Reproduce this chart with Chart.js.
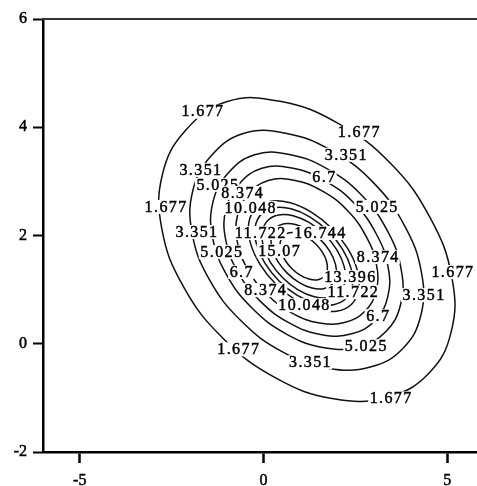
<!DOCTYPE html>
<html>
<head>
<meta charset="utf-8">
<script src="https://cdn.jsdelivr.net/npm/chart.js@4/dist/chart.umd.min.js"></script>
<style>
  html, body { margin: 0; padding: 0; background: #fff; overflow: hidden; }
  #wrap { position: absolute; left: 0; top: 0; width: 500px; height: 486px; }
</style>
</head>
<body>
<div id="wrap"><canvas id="c" width="500" height="486"></canvas></div>
<script>
// contour levels of the surface
const levels = [1.677, 3.351, 5.025, 6.7, 8.374, 10.048, 11.722, 13.396, 15.07, 16.744];

// one closed ring of (x, y) points per level
const ring1677 = [[4.488,-0.554],[5.107,0.220],[5.128,1.215],[4.548,2.311],[3.455,3.334],[2.016,4.077],[0.449,4.479],[-1.007,4.470],[-2.130,3.936],[-2.749,3.132],[-2.770,2.137],[-2.190,1.071],[-1.097,0.098],[0.342,-0.635],[1.909,-1.017],[3.365,-0.988]];
const ring3351 = [[3.793,-0.086],[4.282,0.526],[4.299,1.312],[3.841,2.178],[2.977,2.986],[1.840,3.573],[0.602,3.890],[-0.548,3.884],[-1.435,3.462],[-1.924,2.826],[-1.941,2.040],[-1.483,1.198],[-0.619,0.429],[0.518,-0.150],[1.756,-0.451],[2.906,-0.429]];
const ring5025 = [[3.330,0.226],[3.732,0.730],[3.746,1.376],[3.369,2.089],[2.658,2.754],[1.723,3.237],[0.704,3.498],[-0.242,3.493],[-0.972,3.146],[-1.374,2.622],[-1.388,1.976],[-1.011,1.283],[-0.300,0.650],[0.635,0.174],[1.654,-0.074],[2.600,-0.056]];
const ring6700 = [[3.032,0.427],[3.379,0.861],[3.390,1.418],[3.066,2.032],[2.454,2.605],[1.648,3.020],[0.770,3.246],[-0.045,3.241],[-0.674,2.942],[-1.021,2.491],[-1.032,1.934],[-0.708,1.337],[-0.096,0.792],[0.710,0.382],[1.588,0.168],[2.403,0.184]];
const ring8374 = [[2.767,0.606],[3.064,0.977],[3.075,1.455],[2.796,1.980],[2.271,2.471],[1.581,2.828],[0.829,3.022],[0.130,3.017],[-0.409,2.760],[-0.706,2.375],[-0.717,1.897],[-0.438,1.386],[0.087,0.919],[0.777,0.567],[1.529,0.383],[2.228,0.397]];
const ring10048 = [[2.403,0.736],[2.591,1.002],[2.551,1.362],[2.289,1.761],[1.846,2.138],[1.288,2.436],[0.701,2.608],[0.174,2.630],[-0.213,2.498],[-0.401,2.232],[-0.361,1.872],[-0.099,1.473],[0.344,1.096],[0.902,0.798],[1.489,0.626],[2.016,0.604]];
const ring11722 = [[2.249,0.839],[2.416,1.075],[2.382,1.393],[2.152,1.745],[1.761,2.078],[1.269,2.341],[0.750,2.493],[0.284,2.512],[-0.059,2.395],[-0.226,2.159],[-0.192,1.841],[0.038,1.489],[0.429,1.156],[0.921,0.893],[1.440,0.741],[1.906,0.722]];
const ring13396 = [[2.076,0.956],[2.221,1.158],[2.194,1.430],[2.000,1.731],[1.668,2.014],[1.249,2.237],[0.806,2.365],[0.408,2.380],[0.114,2.278],[-0.031,2.076],[-0.004,1.804],[0.190,1.503],[0.522,1.220],[0.941,0.997],[1.384,0.869],[1.782,0.854]];
const ring15070 = [[1.865,1.098],[1.979,1.257],[1.958,1.471],[1.806,1.707],[1.545,1.929],[1.216,2.104],[0.869,2.205],[0.556,2.216],[0.325,2.136],[0.211,1.977],[0.232,1.763],[0.384,1.527],[0.645,1.305],[0.974,1.130],[1.321,1.029],[1.634,1.017]];
const ring16744 = [[1.653,1.241],[1.735,1.356],[1.720,1.511],[1.610,1.682],[1.421,1.843],[1.183,1.970],[0.931,2.043],[0.704,2.051],[0.537,1.993],[0.455,1.878],[0.470,1.723],[0.580,1.552],[0.769,1.391],[1.007,1.264],[1.259,1.191],[1.486,1.183]];
const rings = [ring1677, ring3351, ring5025, ring6700, ring8374, ring10048, ring11722, ring13396, ring15070, ring16744];

// axis ticks
const xTicks = [-5, 0, 5];
const yTicks = [-2, 0, 2, 4, 6];

// inline level labels: which level, and where on its ring
const labelLevel = [1.677, 1.677, 1.677, 1.677, 1.677, 1.677,
                    3.351, 3.351, 3.351, 3.351, 3.351,
                    5.025, 5.025, 5.025, 5.025,
                    6.7, 6.7, 6.7,
                    8.374, 8.374, 8.374,
                    10.048, 10.048,
                    11.722, 11.722,
                    13.396, 15.07, 16.744];
const labelX = [-1.667, 2.588, -2.669, 5.136, -0.691, 3.455,
                2.236, -1.721, -1.829, 4.350, 1.260,
                -1.260, 3.076, -1.152, 2.778,
                1.640, -0.610, 3.103,
                -0.583, 3.103, 0.041,
                -0.366, 1.098,
                -0.095, 2.425,
                2.344, 0.420, 1.531];
const labelY = [4.287, 3.898, 2.528, 1.324, -0.102, -1.009,
                3.491, 3.213, 2.065, 0.898, -0.343,
                2.935, 2.528, 1.694, -0.046,
                3.083, 1.324, 0.509,
                2.787, 1.602, 0.991,
                2.509, 0.713,
                2.046, 0.954,
                1.231, 1.713, 2.046];

const serif = "'Liberation Serif', 'Times New Roman', serif";

// each ring is drawn as a closed smooth loop
const closeRings = {
  id: 'closeRings',
  afterDatasetUpdate(chart, args) {
    const line = args.meta.dataset;
    if (line) { line._loop = true; line._fullLoop = true; }
  }
};

// frame line along the top of the plot area
const topFrame = {
  id: 'topFrame',
  afterDraw(chart) {
    const {ctx, chartArea} = chart;
    ctx.save();
    ctx.strokeStyle = '#333';
    ctx.lineWidth = 2;
    ctx.beginPath();
    ctx.moveTo(chartArea.left - 1, chartArea.top);
    ctx.lineTo(chart.width, chartArea.top);
    ctx.stroke();
    ctx.restore();
  }
};

// level labels knocked out of the lines
const levelLabels = {
  id: 'levelLabels',
  afterDatasetsDraw(chart) {
    const {ctx, scales} = chart;
    const spacing = 1.4;
    ctx.save();
    ctx.font = '16px ' + serif;
    if ('letterSpacing' in ctx) ctx.letterSpacing = spacing + 'px';
    ctx.textAlign = 'left';
    ctx.textBaseline = 'middle';
    ctx.lineWidth = 0.45;
    ctx.strokeStyle = '#000';
    for (let i = 0; i < labelLevel.length; i++) {
      const text = String(labelLevel[i]);
      const px = scales.x.getPixelForValue(labelX[i]);
      const py = scales.y.getPixelForValue(labelY[i]);
      const w = ctx.measureText(text).width - spacing;
      ctx.fillStyle = '#fff';
      ctx.fillRect(px - w / 2 - 1.5, py - 7, w + 3, 14);
      ctx.fillStyle = '#000';
      ctx.fillText(text, px - w / 2, py + 0.5);
      ctx.strokeText(text, px - w / 2, py + 0.5);
    }
    ctx.restore();
  }
};

const datasets = rings.map((ring, i) => ({
  label: String(levels[i]),
  data: ring.map(([x, y]) => ({x, y})),
  showLine: true,
  borderColor: '#111',
  borderWidth: 1.5,
  pointRadius: 0,
  tension: 0.42,
  fill: false
}));

const tickFont = {family: serif, size: 16};

new Chart(document.getElementById('c'), {
  type: 'scatter',
  data: {datasets},
  options: {
    responsive: false,
    animation: false,
    events: [],
    layout: {padding: {top: 19, right: 16, left: 0, bottom: 0}},
    plugins: {legend: {display: false}, tooltip: {enabled: false}},
    scales: {
      x: {
        type: 'linear', position: 'bottom', min: -6, max: 6,
        afterBuildTicks: s => { s.ticks = xTicks.map(v => ({value: v})); },
        afterFit: s => { s.height = 34; },
        grid: {drawOnChartArea: false, drawTicks: true, tickLength: 11, tickWidth: 2.5, tickColor: '#000'},
        border: {display: true, color: '#000', width: 2.5},
        ticks: {color: '#000', font: tickFont, padding: 8, maxRotation: 0, textStrokeColor: '#000', textStrokeWidth: 0.5}
      },
      y: {
        type: 'linear', position: 'left', min: -2, max: 6,
        afterBuildTicks: s => { s.ticks = yTicks.map(v => ({value: v})); },
        afterFit: s => { s.width = 43; },
        grid: {drawOnChartArea: false, drawTicks: true, tickLength: 10, tickWidth: 2, tickColor: '#000'},
        border: {display: true, color: '#000', width: 2.5},
        ticks: {color: '#000', font: tickFont, padding: 6, textStrokeColor: '#000', textStrokeWidth: 0.5}
      }
    }
  },
  plugins: [closeRings, levelLabels, topFrame]
});
</script>
</body>
</html>
